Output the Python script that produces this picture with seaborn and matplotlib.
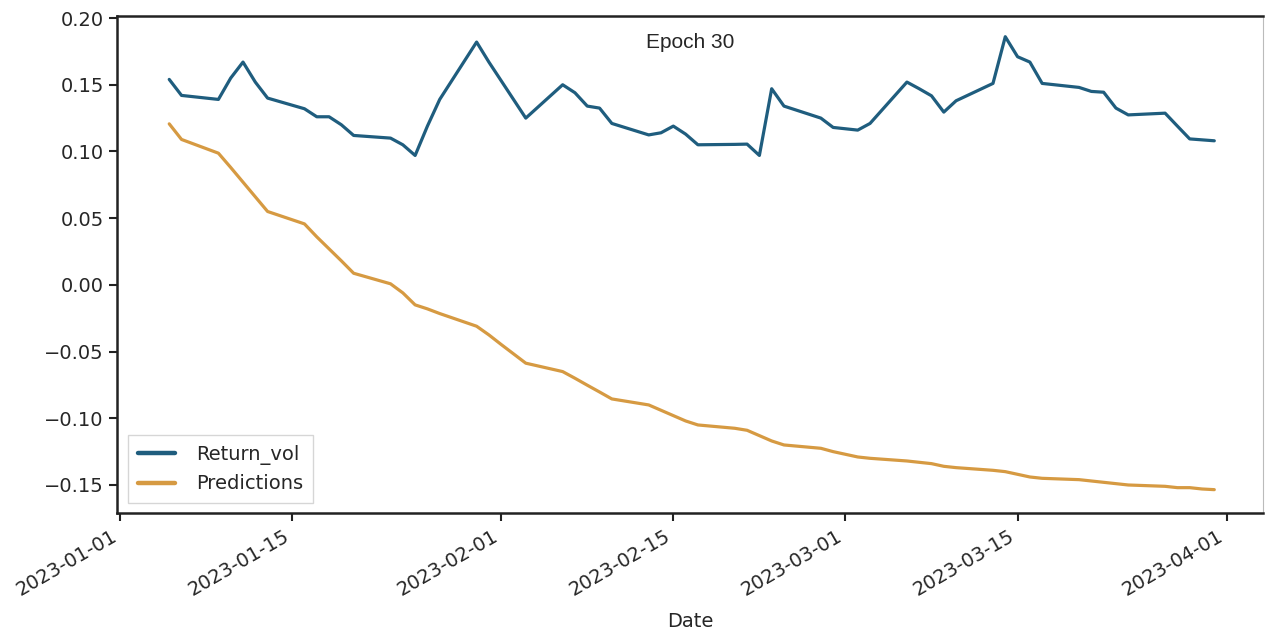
#import libraries
import pandas as pd
import seaborn as sns
import matplotlib
matplotlib.use('Agg')
import matplotlib.pyplot as plt
import matplotlib.dates as mdates

#data (business days, Jan 5 - Mar 31 2023)
jan_days = ['05','06','09','10','11','12','13','16','17','18','19','20','23','24','25','26','27','30','31']
feb_days = ['01','02','03','06','07','08','09','10','13','14','15','16','17','20','21','22','23','24','27','28']
mar_days = ['01','02','03','06','07','08','09','10','13','14','15','16','17','20','21','22','23','24','27','28','29','30','31']
dates = ['2023-01-' + d for d in jan_days] + ['2023-02-' + d for d in feb_days] + ['2023-03-' + d for d in mar_days]

return_vol = [0.154, 0.142, 0.139, 0.155, 0.167, 0.152, 0.140, 0.132, 0.126, 0.126,
              0.120, 0.112, 0.110, 0.105, 0.097, 0.119, 0.139, 0.182, 0.167,
              0.153, 0.139, 0.125, 0.150, 0.144, 0.134, 0.1325, 0.121, 0.1124, 0.114,
              0.119, 0.113, 0.105, 0.1053, 0.1055, 0.097, 0.147, 0.134, 0.125, 0.118,
              0.117, 0.116, 0.121, 0.152, 0.147, 0.1417, 0.1295, 0.138, 0.151, 0.186,
              0.171, 0.167, 0.151, 0.148, 0.145, 0.1444, 0.1325, 0.1274, 0.1287, 0.119,
              0.1094, 0.1087, 0.108]

predictions = [0.1207, 0.109, 0.0987, 0.088, 0.077, 0.066, 0.055, 0.0457, 0.036, 0.027,
               0.018, 0.0087, 0.0008, -0.006, -0.015, -0.018, -0.0215, -0.031, -0.0375,
               -0.0447, -0.0517, -0.0587, -0.065, -0.070, -0.0752, -0.0803, -0.0855, -0.090, -0.094,
               -0.098, -0.102, -0.105, -0.1075, -0.109, -0.113, -0.117, -0.120, -0.1225, -0.125,
               -0.127, -0.129, -0.130, -0.132, -0.133, -0.134, -0.136, -0.137, -0.139, -0.140,
               -0.142, -0.144, -0.145, -0.146, -0.147, -0.148, -0.149, -0.150, -0.151, -0.152,
               -0.152, -0.153, -0.1535]

#long form frame for seaborn
df = pd.DataFrame({'Date': pd.to_datetime(dates), 'Return_vol': return_vol, 'Predictions': predictions})
long_df = df.melt(id_vars='Date', var_name='series', value_name='value')

sns.set_style('ticks')
plt.rcParams['font.family'] = ['DejaVu Sans']

fig, ax = plt.subplots(figsize=(12.66, 6.31), dpi=100)
fig.subplots_adjust(left=0.0924, right=0.998, bottom=0.187, top=0.975)

sns.lineplot(data=long_df, x='Date', y='value', hue='series',
             palette={'Return_vol': '#1f5d7e', 'Predictions': '#d69a42'},
             linewidth=2.3, ax=ax)

#axes limits and ticks
ax.set_xlim(pd.Timestamp('2022-12-31 18:00'), pd.Timestamp('2023-04-04 00:00'))
ax.set_ylim(-0.171, 0.2017)
ax.set_yticks([-0.15, -0.10, -0.05, 0.00, 0.05, 0.10, 0.15, 0.20])
ax.set_yticklabels(['\u22120.15', '\u22120.10', '\u22120.05', '0.00', '0.05', '0.10', '0.15', '0.20'])
ax.xaxis.set_major_locator(mdates.DayLocator(bymonthday=[1, 15]))
ax.xaxis.set_major_formatter(mdates.DateFormatter('%Y-%m-%d'))
ax.tick_params(axis='both', labelsize=14, width=1.5, length=6, color='#222222')
plt.setp(ax.get_xticklabels(), rotation=30, ha='right')

for side in ['left', 'right', 'top', 'bottom']:
    ax.spines[side].set_visible(True)
    ax.spines[side].set_linewidth(1.8)
    ax.spines[side].set_color('#222222')
ax.spines['right'].set_linewidth(0.8)
ax.spines['right'].set_color('#bbbbbb')

ax.set_xlabel('Date', fontsize=14, labelpad=9)
ax.set_ylabel('')
ax.set_title('Epoch 30', y=0.935, pad=0, fontsize=15, family=['Liberation Sans', 'DejaVu Sans'])

leg = ax.legend(loc='lower left', fontsize=14, frameon=True, fancybox=False,
                borderpad=0.5, handlelength=1.9, handletextpad=1.1, borderaxespad=0,
                bbox_to_anchor=(0.0096, 0.02))
leg.get_frame().set_edgecolor('#cccccc')
for line in leg.get_lines():
    line.set_linewidth(3.2)

plt.savefig('out.png', dpi=100)
